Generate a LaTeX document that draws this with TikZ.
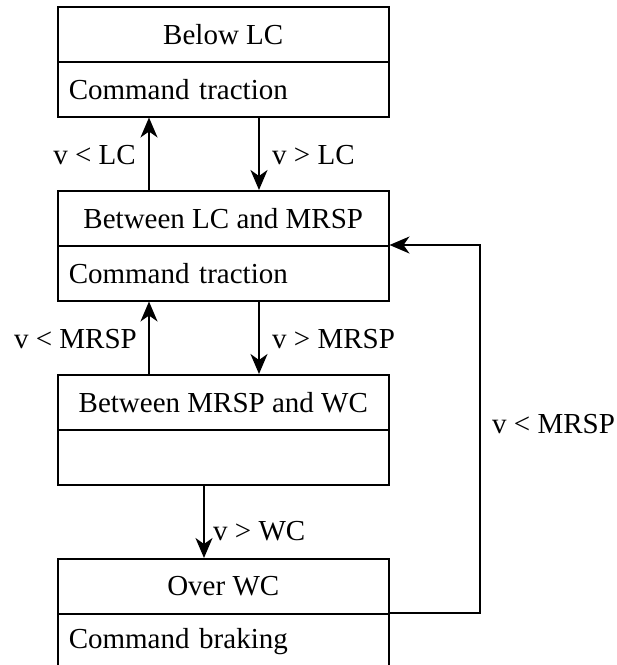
\documentclass[tikz,border=0pt]{standalone}
\usepackage{fontspec}
\setmainfont{Liberation Serif}
\usetikzlibrary{arrows.meta}
\begin{document}
\begin{tikzpicture}[x=1pt, y=-1pt,
  every node/.style={font=\fontsize{29}{34}\selectfont},
  boxhead/.style={draw, line width=1.5pt, minimum width=331pt, minimum height=55pt,
    inner sep=0pt, anchor=north west},
  boxbody/.style={draw, line width=1.5pt, minimum height=55pt, inner xsep=11pt,
    inner ysep=0pt, text width=309pt, align=left, anchor=north west},
  arr/.style={line width=1.5pt, -{Stealth[length=20pt, width=17pt, inset=6pt]}},
  cond/.style={inner sep=0pt}]
  \useasboundingbox (0,0) rectangle (617,665);
  \clip (0,0) rectangle (617,665);

  % state boxes: title row and action row
  \node[boxhead] (b1h) at (57,6)   {Below LC};
  \node[boxbody] (b1b) at (57,61)  {Command traction};
  \node[boxhead] (b2h) at (57,190) {Between LC and MRSP};
  \node[boxbody] (b2b) at (57,245) {Command traction};
  \node[boxhead] (b3h) at (57,374) {Between MRSP and WC};
  \node[boxbody] (b3b) at (57,429) {};
  \node[boxhead] (b4h) at (57,558) {Over WC};
  \node[boxbody] (b4b) at (57,613) {Command braking};

  % x positions of the vertical transitions
  \coordinate (upx)   at (149,0);
  \coordinate (downx) at (259,0);
  \coordinate (wcx)   at (204,0);
  \coordinate (loopx) at (480,0);

  % transitions
  \draw[arr] (b2h.north -| upx) -- (b1b.south -| upx);
  \draw[arr] (b1b.south -| downx) -- (b2h.north -| downx);
  \draw[arr] (b3h.north -| upx) -- (b2b.south -| upx);
  \draw[arr] (b2b.south -| downx) -- (b3h.north -| downx);
  \draw[arr] (b3b.south -| wcx) -- (b4h.north -| wcx);
  \draw[arr] (b4b.north east) -- (b4b.north east -| loopx) |- (b2b.north east);

  % transition conditions
  \node[cond, anchor=east] (c1) at (136,155) {v < LC};
  \node[cond, anchor=west] (c2) at (272,155) {v > LC};
  \node[cond, anchor=east] (c3) at (137,339) {v < MRSP};
  \node[cond, anchor=west] (c4) at (272,339) {v > MRSP};
  \node[cond, anchor=west] (c5) at (213,531) {v > WC};
  \node[cond, anchor=west] (c6) at (492,424) {v < MRSP};
\end{tikzpicture}
\end{document}
